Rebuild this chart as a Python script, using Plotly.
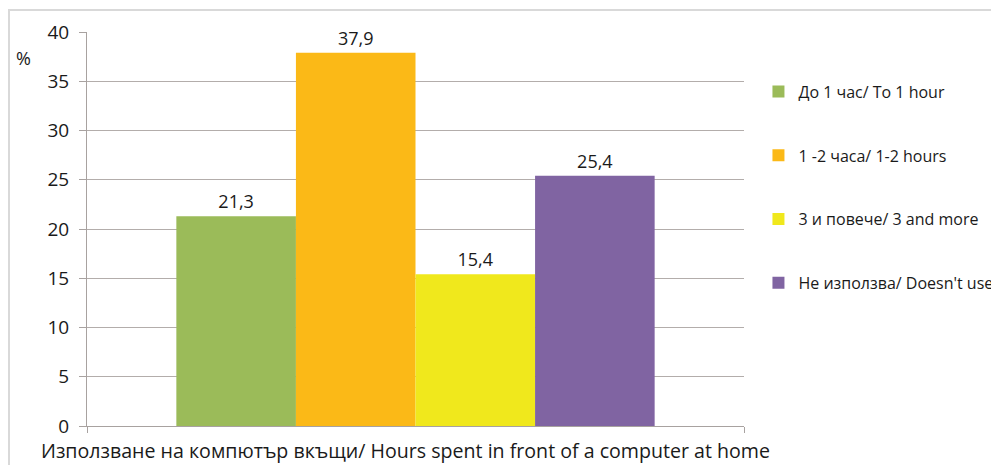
import plotly.graph_objects as go

category = ["Използване на компютър вкъщи/ Hours spent in front of a computer at home"]
series_names = ["До 1 час/ То 1 hour", "1 -2 часа/ 1-2 hours", "3 и повече/ 3 and more", "Не използва/ Doesn't use"]
values = [21.3, 37.9, 15.4, 25.4]
colors = ["#9BBB59", "#FBB917", "#F0E81C", "#8064A2"]
y_ticks = [0, 5, 10, 15, 20, 25, 30, 35, 40]

FONT = "Open Sans"
TXT = "#1a1a1a"

fig = go.Figure()
for i, (name, v, c) in enumerate(zip(series_names, values, colors)):
    fig.add_trace(go.Bar(
        x=category, y=[v], name=name, marker_color=c, marker_line_width=0,
        text=[f"{v:.1f}".replace(".", ",")], textposition="outside",
        textfont=dict(family=FONT, size=18, color=TXT), cliponaxis=False,
        legendgroup=f"g{i}",
    ))

fig.update_layout(
    width=991, height=465,
    margin=dict(l=87, r=247, t=32, b=39, autoexpand=False),
    paper_bgcolor="white", plot_bgcolor="white",
    barmode="group", bargap=0.272, bargroupgap=0,
    font=dict(family=FONT, color=TXT),
    showlegend=True,
    legend=dict(x=1.022, xanchor="left", y=0.892, yanchor="top",
                font=dict(family=FONT, size=16, color=TXT),
                tracegroupgap=40, itemwidth=30, bgcolor="rgba(0,0,0,0)"),
    xaxis=dict(showline=True, linecolor="#a8a2a0", linewidth=1,
               ticks="outside", tickson="boundaries", ticklen=6, tickcolor="#a8a2a0",
               showticklabels=False, showgrid=False),
    yaxis=dict(range=[0, 40], tickvals=y_ticks, showline=True, linecolor="#a8a2a0",
               linewidth=1, ticks="outside", ticklen=7, tickcolor="#a8a2a0",
               ticklabelstandoff=6,
               gridcolor="#b3adab", gridwidth=1, zeroline=False,
               tickfont=dict(family=FONT, size=19, color=TXT)),
    annotations=[
        dict(text="%", xref="paper", yref="paper", x=-0.097, y=0.934,
             xanchor="center", yanchor="middle",
             showarrow=False, font=dict(family=FONT, size=18, color=TXT)),
        dict(text=category[0], xref="paper", yref="paper", x=0.4855, y=-0.061,
             xanchor="center", yanchor="middle",
             showarrow=False, font=dict(family=FONT, size=19.6, color=TXT)),
    ],
    shapes=[dict(type="rect", xref="paper", yref="paper", x0=-0.1187, x1=1.6,
                 y0=-0.3, y1=1.0558, line=dict(color="#d9d9d9", width=2),
                 fillcolor="rgba(0,0,0,0)", layer="below")],
)
fig.write_html("out.html")
